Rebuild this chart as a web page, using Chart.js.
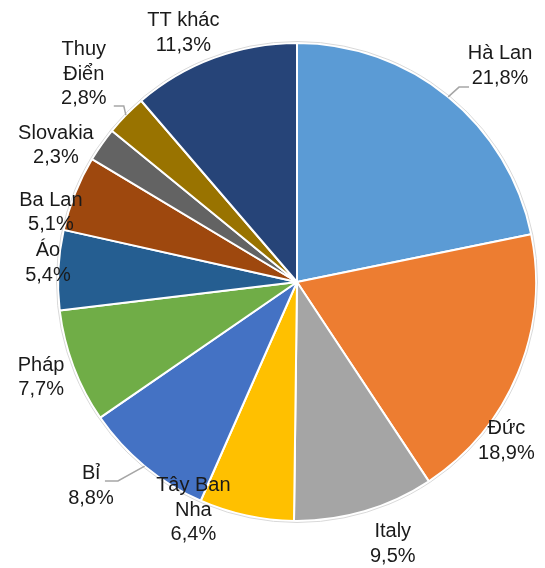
<!DOCTYPE html>
<html>
<head>
<meta charset="utf-8">
<script src="https://cdn.jsdelivr.net/npm/chart.js@4/dist/chart.umd.min.js"></script>
<style>
  html, body { margin: 0; padding: 0; background: #fff; }
  canvas { display: block; }
</style>
</head>
<body>
<canvas id="pieChart" width="545" height="568"></canvas>
<script>
// data
const countries = ["Hà Lan", "Đức", "Italy", "Tây Ban Nha", "Bỉ", "Pháp", "Áo", "Ba Lan", "Slovakia", "Thuy Điển", "TT khác"];
const shares = [21.8, 18.9, 9.5, 6.4, 8.8, 7.7, 5.4, 5.1, 2.3, 2.8, 11.3];
// how each name wraps in its label
const labelLines = [["Hà Lan"], ["Đức"], ["Italy"], ["Tây Ban", "Nha"], ["Bỉ"], ["Pháp"], ["Áo"], ["Ba Lan"], ["Slovakia"], ["Thuy", "Điển"], ["TT khác"]];

const colors = ["#5B9BD5", "#ED7D31", "#A5A5A5", "#FFC000", "#4472C4", "#70AD47", "#255E91", "#9E480E", "#636363", "#997300", "#264478"];

// label placement: angle shift (deg) from slice middle, distance as radius factor
const labelShift = [4, 14.7, -3.7, 12.2, 5.7, 0.2, 1.5, -6, -5.6, 0, -4.2];
const labelDist = [1.24, 1.10, 1.167, 1.048, 1.213, 1.143, 1.045, 1.07, 1.159, 1.246, 1.145];
// leader lines: end offset from label centre, elbow length
const leaders = {
  0: { dx: -31, dy: 21, elbow: -10 },
  4: { dx: 14, dy: -5, elbow: 13 },
  9: { dx: 30, dy: 32, elbow: 10 }
};

const pieLabels = {
  id: "pieLabels",
  afterDatasetsDraw(chart) {
    const ctx = chart.ctx;
    const arcs = chart.getDatasetMeta(0).data;

    ctx.save();

    // thin outline round the pie
    const a0 = arcs[0];
    ctx.beginPath();
    ctx.arc(a0.x, a0.y, a0.outerRadius + 1.5, 0, Math.PI * 2);
    ctx.strokeStyle = "#d9d9d9";
    ctx.lineWidth = 1;
    ctx.stroke();

    ctx.font = "20px 'Liberation Sans', Arial, sans-serif";
    ctx.textAlign = "center";
    ctx.textBaseline = "middle";
    const lineH = 24.5;

    arcs.forEach((arc, i) => {
      const mid = (arc.startAngle + arc.endAngle) / 2;
      const ang = mid + labelShift[i] * Math.PI / 180;
      const r = arc.outerRadius * labelDist[i];
      const cx = arc.x + Math.cos(ang) * r;
      const cy = arc.y + Math.sin(ang) * r;

      const lines = labelLines[i].concat([shares[i].toFixed(1).replace(".", ",") + "%"]);

      const ld = leaders[i];
      if (ld) {
        const ex = arc.x + Math.cos(mid) * arc.outerRadius;
        const ey = arc.y + Math.sin(mid) * arc.outerRadius;
        const tx = cx + ld.dx;
        const ty = cy + ld.dy;
        ctx.beginPath();
        ctx.moveTo(ex, ey);
        ctx.lineTo(tx + ld.elbow, ty);
        ctx.lineTo(tx, ty);
        ctx.strokeStyle = "#a6a6a6";
        ctx.lineWidth = 1.5;
        ctx.stroke();
      }

      ctx.fillStyle = "#1a1a1a";
      const top = cy - (lines.length - 1) * lineH / 2;
      lines.forEach((t, j) => ctx.fillText(t, cx, top + j * lineH));
    });

    ctx.restore();
  }
};

new Chart(document.getElementById("pieChart"), {
  type: "pie",
  data: {
    labels: countries,
    datasets: [{
      data: shares,
      backgroundColor: colors,
      borderColor: "#ffffff",
      borderWidth: 2
    }]
  },
  options: {
    responsive: false,
    animation: false,
    layout: {
      padding: { left: 57, right: 8, top: 42, bottom: 46 }
    },
    plugins: {
      legend: { display: false },
      tooltip: { enabled: false }
    }
  },
  plugins: [pieLabels]
});
</script>
</body>
</html>
